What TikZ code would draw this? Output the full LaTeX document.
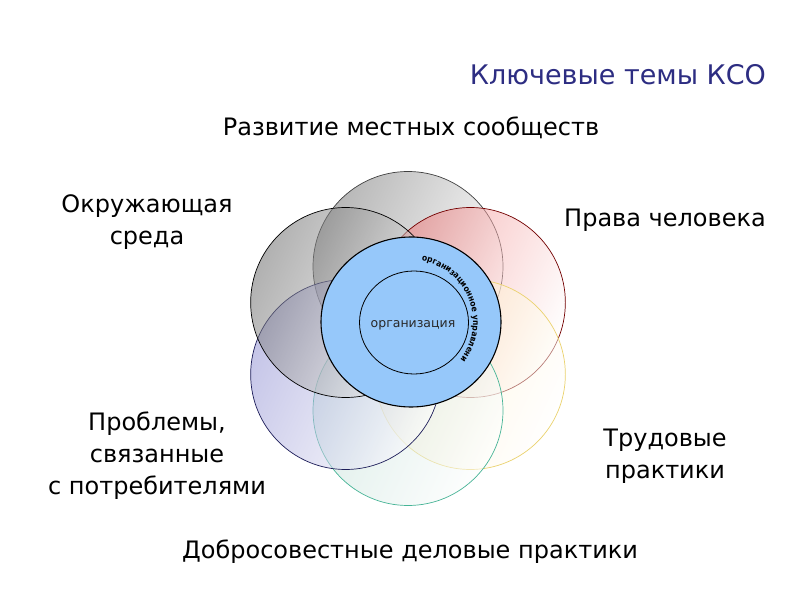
\documentclass[tikz,border=0pt]{standalone}
\usepackage{fontspec}
\setmainfont{DejaVu Sans}
\newfontfamily\curvefont{DejaVu Sans Condensed Bold}
\usetikzlibrary{decorations.text,shapes.geometric}
\definecolor{titleblue}{RGB}{45,45,130}
\definecolor{orgblue}{RGB}{150,200,250}
\definecolor{cgray}{RGB}{110,110,110}
\definecolor{cdark}{RGB}{100,100,100}
\definecolor{cred}{RGB}{240,110,110}
\definecolor{cpurple}{RGB}{140,140,210}
\definecolor{cyellow}{RGB}{255,235,180}
\definecolor{cgreen}{RGB}{185,220,210}
\tikzset{
  petal/.style n args={2}{circle, minimum size=190pt, inner sep=0pt, shade, shading=axis,
    top color=#1, middle color=#1!35!white, bottom color=white, shading angle=65,
    fill opacity=0.5, line width=0.7pt, draw=#2},
  label/.style={font=\fontsize{24}{32}\selectfont, align=center, text=black, anchor=center},
}
\begin{document}
\begin{tikzpicture}[x=1pt,y=1pt]
\useasboundingbox (0,0) rectangle (800,600);
\fill[white] (0,0) rectangle (800,600);
% petals
\node[petal={cgray}{black!75}] (top) at (408,333.5) {};
\node[petal={cred}{red!45!black}] (ur) at (470.35,297.5) {};
\node[petal={cyellow}{{rgb,255:red,235;green,210;blue,110}}] (lr) at (470.35,225.5) {};
\node[petal={cgreen}{{rgb,255:red,70;green,180;blue,150}}] (bot) at (408,189.5) {};
\node[petal={cpurple}{{rgb,255:red,30;green,30;blue,90}}] (ll) at (345.65,225.5) {};
\node[petal={cdark}{black}] (ul) at (345.65,297.5) {};
% centre
\node[ellipse, minimum width=180pt, minimum height=170pt, inner sep=0pt, fill=orgblue, draw=black, line width=1.1pt] (gov) at (411,278) {};
\node[ellipse, minimum width=109pt, minimum height=103pt, inner sep=0pt, draw=black, line width=0.8pt] (org) at (414,277.5) {};
\node[font=\fontsize{12.5}{14}\selectfont, text={rgb,255:red,40;green,40;blue,40}] (orgtxt) at (413,275) {организация};
\coordinate (arcstart) at ([shift={(74:62)}]gov.center);
\path[decorate, decoration={text along path, text={|\curvefont\fontsize{8.5}{9}\selectfont|организационное управление}, text align=center}]
  (arcstart) arc[start angle=74, end angle=-36, radius=62];
% labels
\node[font=\fontsize{27}{30}\selectfont, text=titleblue] (title) at (618,525) {Ключевые темы КСО};
\node[label] (l1) at (411,472) {Развитие местных сообществ};
\node[label] (l2) at (665,380) {Права человека};
\node[label] (l3) at (665,144) {Трудовые\\практики};
\node[label] (l4) at (410,48) {Добросовестные деловые практики};
\node[label] (l5) at (157,144) {Проблемы,\\связанные\\с потребителями};
\node[label] (l6) at (147,378) {Окружающая\\среда};
\end{tikzpicture}
\end{document}
